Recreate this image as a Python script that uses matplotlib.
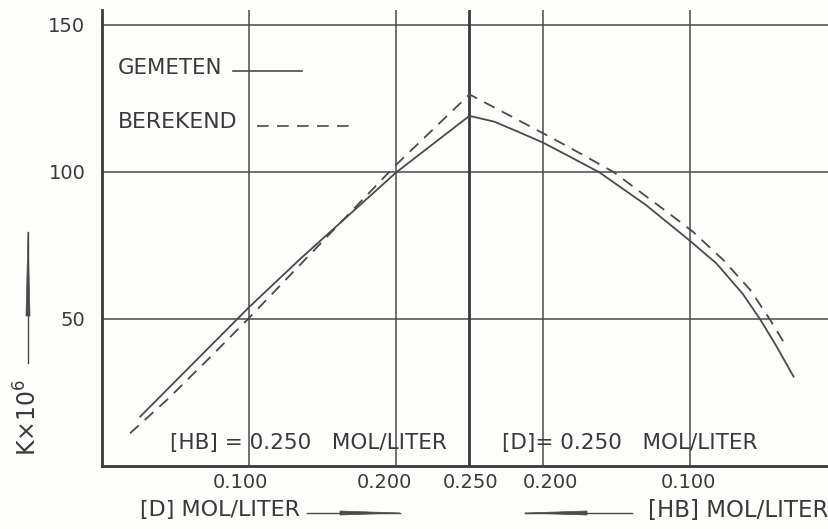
import matplotlib

matplotlib.use("Agg")
import matplotlib.pyplot as plt
import numpy as np
from matplotlib.lines import Line2D
from matplotlib.patches import Polygon
from matplotlib.transforms import ScaledTranslation

W, H = 829, 529
INK = "#4a4a4a"
TEXT = "#3a3a3a"

# left half: [D] varies, [HB] = 0.250
D_meas = [0.026, 0.10, 0.135, 0.20, 0.25]
K_meas_left = [16.8, 54.0, 70.5, 99.8, 119.1]
D_calc = [0.019, 0.044, 0.074, 0.098, 0.20, 0.25]
K_calc_left = [11.1, 22.4, 37.2, 49.3, 102.4, 126.4]

# right half: [HB] varies, [D] = 0.250
HB_meas = [0.25, 0.233, 0.217, 0.20, 0.187, 0.162, 0.130, 0.100, 0.082,
           0.064, 0.052, 0.041, 0.0295]
K_meas_right = [119.1, 117.1, 113.7, 110.0, 106.6, 100.0, 88.8, 76.6, 68.9,
                58.5, 49.7, 40.6, 30.4]
HB_calc = [0.25, 0.20, 0.180, 0.152, 0.1185, 0.098, 0.0774, 0.059, 0.0454, 0.0351]
K_calc_right = [126.4, 113.2, 107.8, 100.0, 87.5, 79.7, 70.1, 59.9, 49.7, 41.2]

y_ticks = [50, 100, 150]
x_tick_pos = [0.10, 0.20, 0.25, 0.30, 0.40]
x_tick_labels = ["0.100", "0.200", "0.250", "0.200", "0.100"]
x_label_nudge = [-9, -12, 1, 7, -2]


def px(x, y):
    return x / W, 1 - y / H


def combined(conc_left, k_left, conc_right, k_right):
    # left: x = [D]; right: x = 0.5 - [HB] (axis runs back down to 0)
    u = list(conc_left) + [0.5 - c for c in conc_right[1:]]
    k = list(k_left) + list(k_right[1:])
    return np.array(u), np.array(k)


def fig_line(fig, p, q, lw=1.2, ls="-"):
    (x0, y0), (x1, y1) = px(*p), px(*q)
    fig.add_artist(Line2D([x0, x1], [y0, y1], color=INK, lw=lw, ls=ls))


def fig_arrow(fig, tail, tip, base, width=4.0, lw=1.0):
    """thin shaft from tail to tip, long narrow head from base to tip"""
    fig_line(fig, tail, tip, lw=lw)
    tip, base = np.array(tip, float), np.array(base, float)
    d = tip - base
    n = np.array([-d[1], d[0]]) / np.hypot(*d) * width / 2
    pts = [px(*(base + n)), px(*tip), px(*(base - n))]
    fig.add_artist(Polygon(pts, closed=True, facecolor=INK, edgecolor=INK, lw=0.5))


fig = plt.figure(figsize=(W / 100, H / 100), dpi=100, facecolor="#fdfdfc")
ax = fig.add_axes([102 / W, (H - 466) / H, (W - 102) / W, (466 - 10) / H])
ax.set_facecolor("none")
ax.set_xlim(0, 0.4946)
ax.set_ylim(0, 155.1)

for s in ("top", "right"):
    ax.spines[s].set_visible(False)
for s in ("left", "bottom"):
    ax.spines[s].set_linewidth(2.0)
    ax.spines[s].set_color("#3a3a3a")

for y in y_ticks:
    ax.axhline(y, color=INK, lw=1.1, zorder=1)
for x in x_tick_pos:
    ax.axvline(x, color="#3a3a3a" if x == 0.25 else INK, lw=2.0 if x == 0.25 else 1.1, zorder=1)

u_m, k_m = combined(D_meas, K_meas_left, HB_meas, K_meas_right)
u_c, k_c = combined(D_calc, K_calc_left, HB_calc, K_calc_right)
ax.plot(u_m, k_m, color=INK, lw=1.3, zorder=3, solid_joinstyle="round")
ax.plot(u_c, k_c, color=INK, lw=1.3, ls=(0, (6.5, 4.5)), zorder=3)

ax.set_yticks(y_ticks)
ax.set_yticklabels([str(v) for v in y_ticks])
ax.tick_params(axis="y", length=0, pad=12, labelsize=14, labelcolor=TEXT)
ax.set_xticks(x_tick_pos)
ax.set_xticklabels([])
ax.tick_params(axis="x", length=0)
for x, lab, dx in zip(x_tick_pos, x_tick_labels, x_label_nudge):
    tr = ax.get_xaxis_transform() + ScaledTranslation(dx / 100, -7 / 100, fig.dpi_scale_trans)
    ax.text(x, 0, lab, transform=tr, fontsize=14, color=TEXT, ha="center", va="top")

# legend, drawn by hand as in the original
fig.text(*px(118, 68), "GEMETEN", fontsize=15.3, color=TEXT, ha="left", va="center")
fig_line(fig, (233, 70.5), (302, 70.5), lw=1.2)
fig.text(*px(118, 122), "BEREKEND", fontsize=15.8, color=TEXT, ha="left", va="center")
fig_line(fig, (257, 126), (352, 126), lw=1.2, ls=(0, (7, 5)))

# conditions in each half
fig.text(*px(170, 443), "[HB] = 0.250   MOL/LITER", fontsize=15.5, color=TEXT,
         ha="left", va="center")
fig.text(*px(502, 443), "[D]= 0.250   MOL/LITER", fontsize=15.5, color=TEXT,
         ha="left", va="center")

# axis titles with arrows
fig.text(*px(140, 510), "[D] MOL/LITER", fontsize=16, color=TEXT, ha="left", va="center")
fig_arrow(fig, (307, 513), (400, 513), (340, 513))
fig.text(*px(828, 510), "[HB] MOL/LITER", fontsize=16.5, color=TEXT, ha="right", va="center")
fig_arrow(fig, (632, 513), (525, 513), (587, 513))
fig.text(*px(28, 418), r"K$\times$10$^{6}$", fontsize=17, color=TEXT, rotation=90,
         ha="center", va="center")
fig_arrow(fig, (28, 363), (28, 232), (28, 316))

fig.savefig("out.png", dpi=100, facecolor=fig.get_facecolor())
